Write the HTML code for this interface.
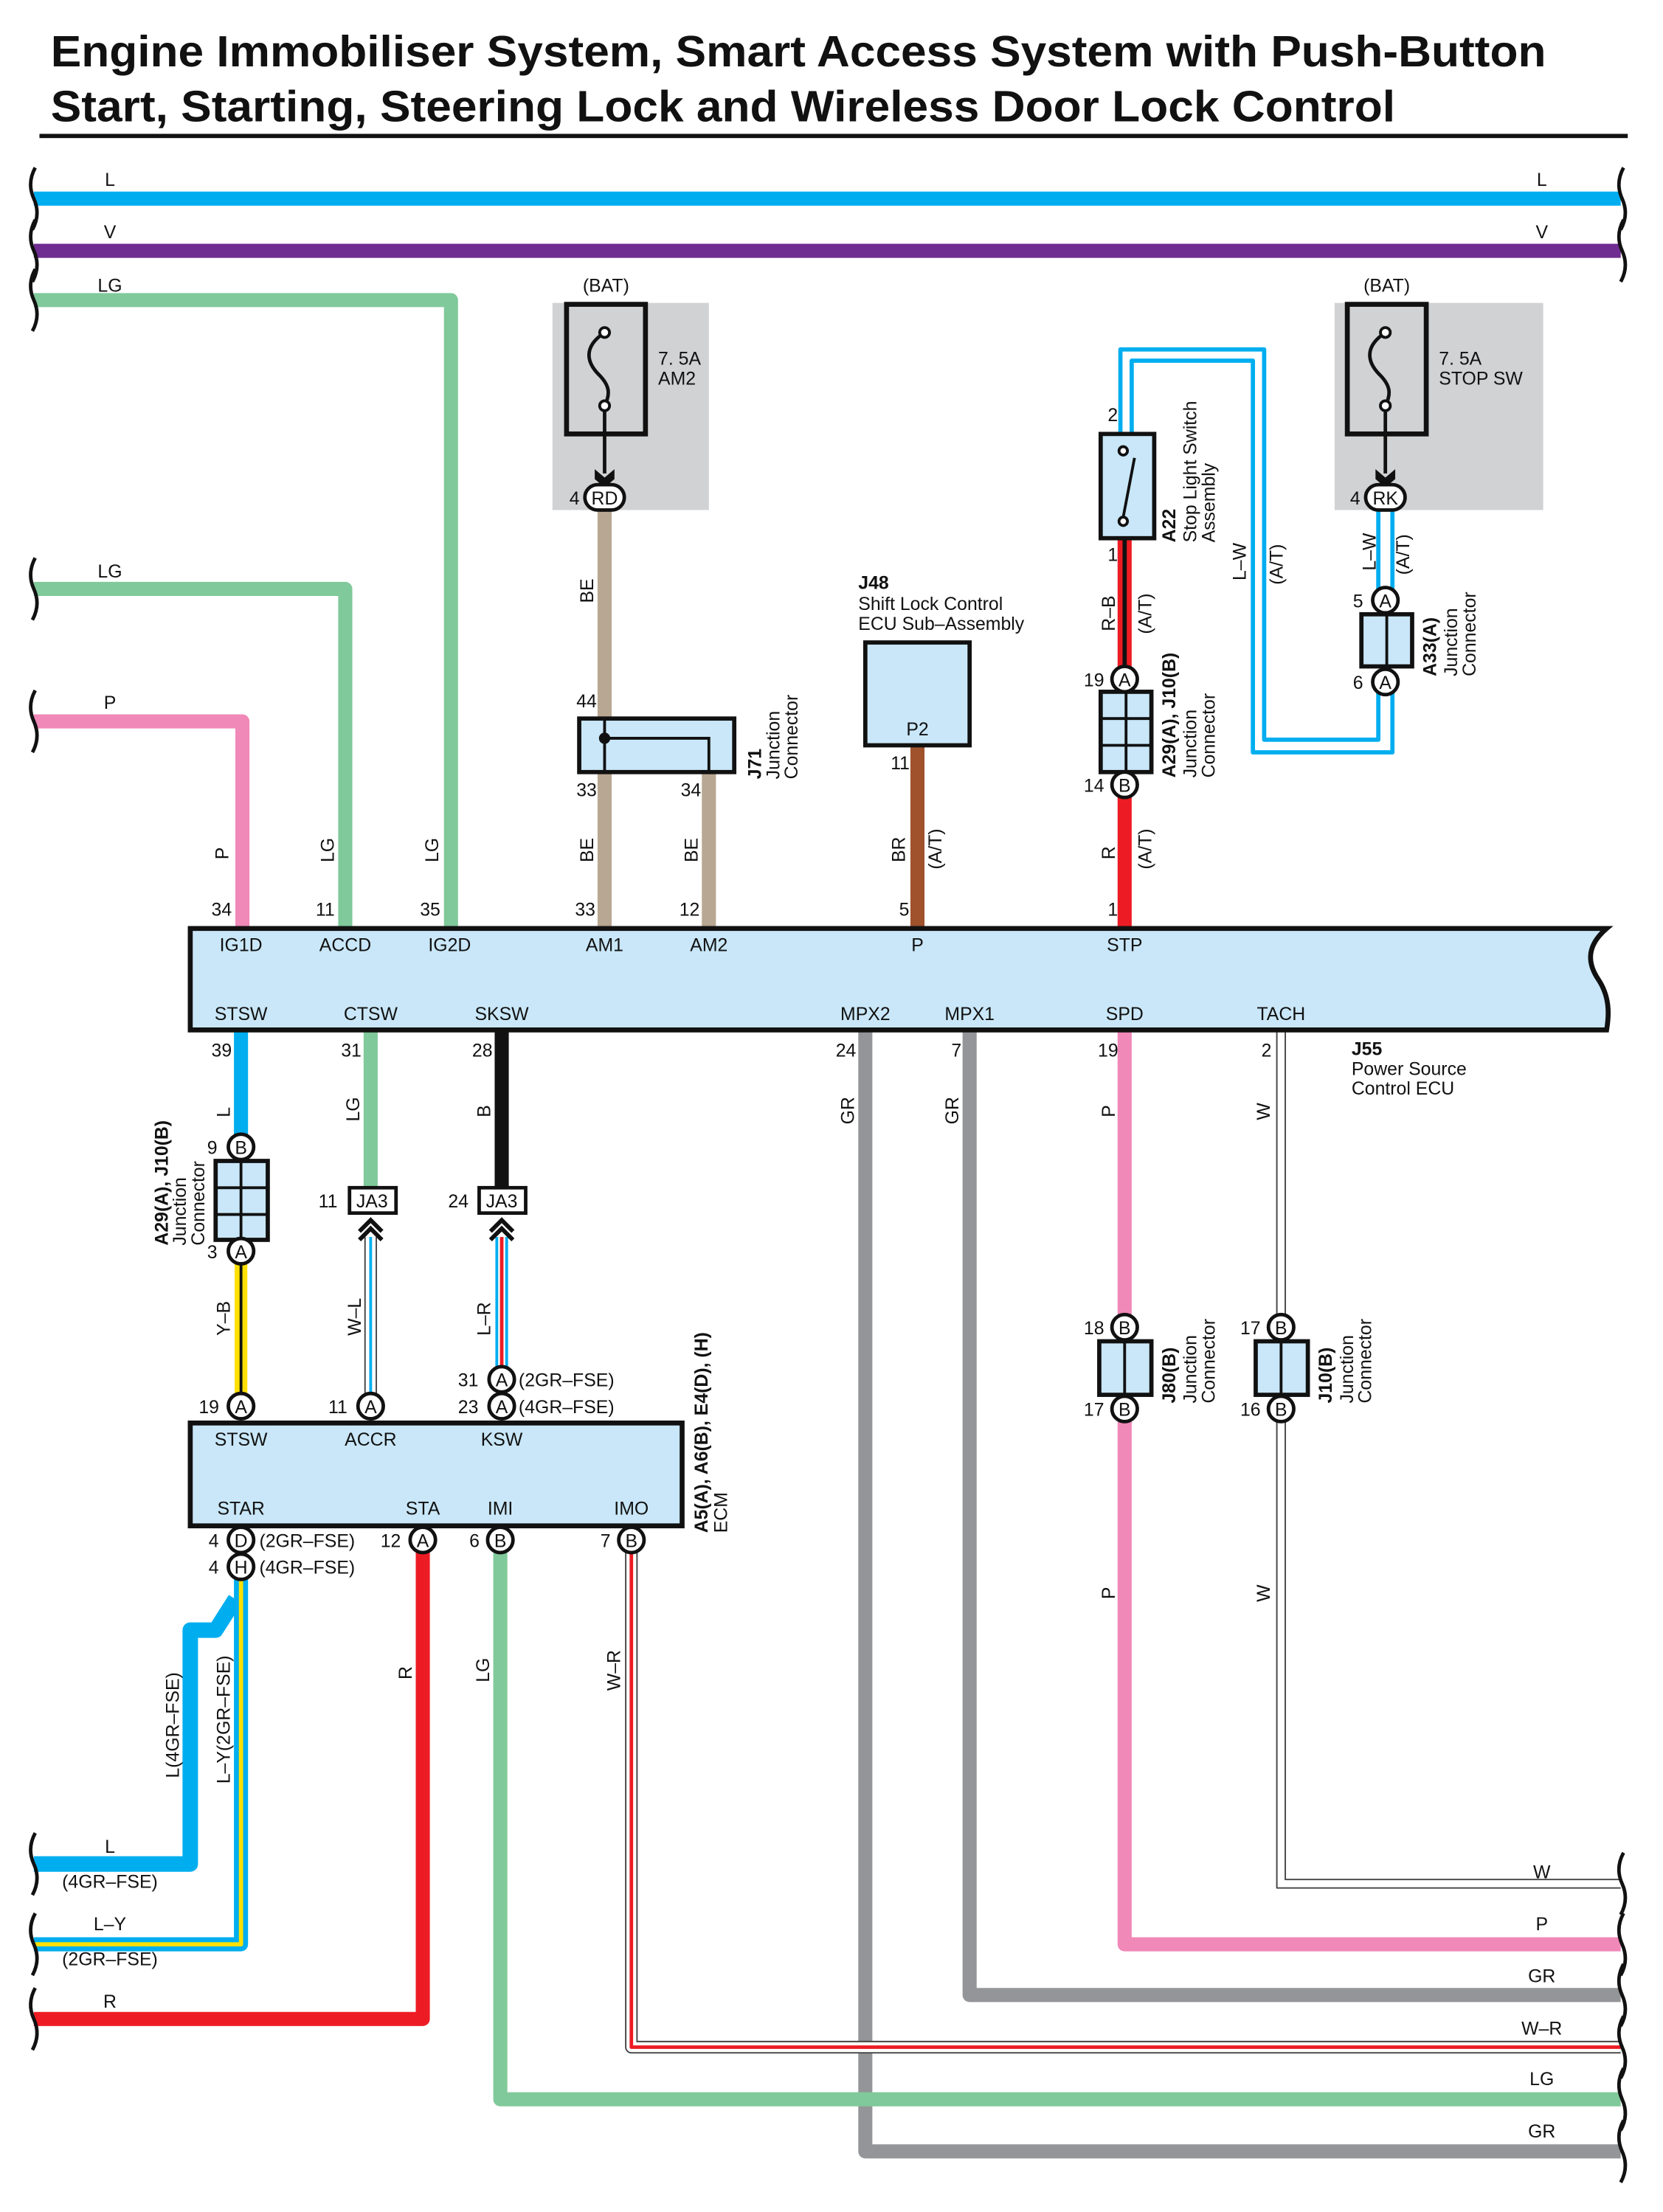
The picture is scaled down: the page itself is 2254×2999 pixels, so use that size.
<!DOCTYPE html>
<html><head><meta charset="utf-8"><style>
html,body{margin:0;padding:0;background:#fff}
svg{display:block}
text{font-family:"Liberation Sans",sans-serif;fill:#111}
.t{font-size:13px}
.b{font-weight:bold}
.c{font-size:13px}
</style></head><body>
<svg width="2254" height="2999" viewBox="0 0 1180 1570" preserveAspectRatio="none" xmlns="http://www.w3.org/2000/svg">
<defs>
<g id="sq"><path d="M0,-22 q-6,11 -1,22 q5,11 -1,22" fill="none" stroke="#111" stroke-width="2.5"/></g>
</defs>
<!-- title -->
<text x="36" y="47" class="b" style="font-size:31px" textLength="1061" lengthAdjust="spacingAndGlyphs">Engine Immobiliser System, Smart Access System with Push-Button</text>
<text x="36" y="86" class="b" style="font-size:31px" textLength="954" lengthAdjust="spacingAndGlyphs">Start, Starting, Steering Lock and Wireless Door Lock Control</text>
<rect x="28" y="95" width="1127" height="3" fill="#111"/>

<g fill="none" stroke-linejoin="round">
<path d="M24,141 H1150" stroke="#00aeef" stroke-width="10"/>
<path d="M24,178 H1150" stroke="#6f2c91" stroke-width="10"/>
<path d="M24,213 H320 V660" stroke="#80c99a" stroke-width="10"/>
<path d="M24,418 H245 V660" stroke="#80c99a" stroke-width="10"/>
<path d="M24,512 H172 V660" stroke="#f088b8" stroke-width="10"/>
<path d="M429,360 V512" stroke="#b8a792" stroke-width="10"/>
<path d="M429,548 V660 M503,548 V660" stroke="#b8a792" stroke-width="10"/>
<path d="M651,530 V660" stroke="#a0522d" stroke-width="10"/>
<path d="M798,382 V474" stroke="#ed1c24" stroke-width="10"/>
<path d="M798,382 V474" stroke="#111" stroke-width="3"/>
<path d="M798,565 V660" stroke="#ed1c24" stroke-width="10"/>
<path d="M795,307 V248 H897 V525 H978 V490" stroke="#00aeef" stroke-width="3"/>
<path d="M803,307 V256 H889 V534 H988 V490" stroke="#00aeef" stroke-width="3"/>
<path d="M978,362 V420 M988,362 V420" stroke="#00aeef" stroke-width="3"/>
</g>

<!-- fuse AM2 -->
<rect x="392" y="215" width="111" height="147" fill="#d1d2d4"/>
<rect x="402" y="216" width="56" height="92" fill="none" stroke="#111" stroke-width="3.5"/>
<path d="M429,236 c-18,12 -10,24 -4,30 c8,8 8,14 4,22 V336" fill="none" stroke="#111" stroke-width="2.5"/>
<circle cx="429" cy="236" r="3.5" fill="#fff" stroke="#111" stroke-width="2"/>
<circle cx="429" cy="288" r="3.5" fill="#fff" stroke="#111" stroke-width="2"/>
<path d="M422,333 L429,339 L436,333 V340 L429,346 L422,340 Z" fill="#111"/>
<rect x="415" y="344" width="28" height="18" rx="9" fill="#fff" stroke="#111" stroke-width="2.5"/>
<text x="429" y="358" class="t" text-anchor="middle">RD</text>
<text x="404" y="358" class="t">4</text>
<text x="430" y="207" class="t" text-anchor="middle">(BAT)</text>
<text x="467" y="259" class="t">7. 5A</text><text x="467" y="273" class="t">AM2</text>

<!-- fuse STOP SW -->
<rect x="947" y="215" width="148" height="147" fill="#d1d2d4"/>
<rect x="956" y="216" width="56" height="92" fill="none" stroke="#111" stroke-width="3.5"/>
<path d="M983,236 c-18,12 -10,24 -4,30 c8,8 8,14 4,22 V336" fill="none" stroke="#111" stroke-width="2.5"/>
<circle cx="983" cy="236" r="3.5" fill="#fff" stroke="#111" stroke-width="2"/>
<circle cx="983" cy="288" r="3.5" fill="#fff" stroke="#111" stroke-width="2"/>
<path d="M976,333 L983,339 L990,333 V340 L983,346 L976,340 Z" fill="#111"/>
<rect x="969" y="344" width="28" height="18" rx="9" fill="#fff" stroke="#111" stroke-width="2.5"/>
<text x="983" y="358" class="t" text-anchor="middle">RK</text>
<text x="958" y="358" class="t">4</text>
<text x="984" y="207" class="t" text-anchor="middle">(BAT)</text>
<text x="1021" y="259" class="t">7. 5A</text><text x="1021" y="273" class="t">STOP SW</text>

<!-- J71 -->
<rect x="411" y="510" width="110" height="38" fill="#c9e7f8" stroke="#111" stroke-width="3"/>
<path d="M429,510 V548 M429,524 H503 V548" fill="none" stroke="#111" stroke-width="2"/>
<circle cx="429" cy="524" r="4" fill="#111"/>
<text x="409" y="502" class="t">44</text>
<text x="409" y="565" class="t">33</text><text x="483" y="565" class="t">34</text>
<text transform="translate(540,553) rotate(-90)" class="t b">J71</text>
<text transform="translate(553,553) rotate(-90)" class="t">Junction</text>
<text transform="translate(566,553) rotate(-90)" class="t">Connector</text>

<!-- J48 -->
<rect x="614" y="456" width="74" height="73" fill="#c9e7f8" stroke="#111" stroke-width="3"/>
<text x="651" y="522" class="t" text-anchor="middle">P2</text>
<text x="609" y="418" class="t b">J48</text>
<text x="609" y="433" class="t">Shift Lock Control</text>
<text x="609" y="447" class="t">ECU Sub–Assembly</text>
<text x="632" y="546" class="t">11</text>

<!-- A22 switch -->
<rect x="781" y="308" width="38" height="74" fill="#c9e7f8" stroke="#111" stroke-width="3"/>
<circle cx="797" cy="320" r="3" fill="#fff" stroke="#111" stroke-width="2"/>
<circle cx="797" cy="370" r="3" fill="#fff" stroke="#111" stroke-width="2"/>
<path d="M797,367 L805,325" stroke="#111" stroke-width="2"/>
<text x="786" y="299" class="t">2</text><text x="786" y="398" class="t">1</text>
<text transform="translate(834,385) rotate(-90)" class="t b">A22</text>
<text transform="translate(849,385) rotate(-90)" class="t">Stop Light Switch</text>
<text transform="translate(862,385) rotate(-90)" class="t">Assembly</text>
<text transform="translate(884,412) rotate(-90)" class="t">L–W</text>
<text transform="translate(910,415) rotate(-90)" class="t">(A/T)</text>

<!-- A29/J10 junction upper -->
<rect x="781" y="491" width="36" height="57" fill="#c9e7f8" stroke="#111" stroke-width="3"/>
<path d="M799,491 V548 M781,510 H817 M781,529 H817" stroke="#111" stroke-width="2"/>
<circle cx="798" cy="482" r="9" fill="#fff" stroke="#111" stroke-width="2.5"/><text x="798" y="487" class="c" text-anchor="middle">A</text>
<circle cx="798" cy="557" r="9" fill="#fff" stroke="#111" stroke-width="2.5"/><text x="798" y="562" class="c" text-anchor="middle">B</text>
<text x="769" y="487" class="t">19</text><text x="769" y="562" class="t">14</text>
<text transform="translate(834,552) rotate(-90)" class="t b">A29(A), J10(B)</text>
<text transform="translate(849,552) rotate(-90)" class="t">Junction</text>
<text transform="translate(862,552) rotate(-90)" class="t">Connector</text>

<!-- A33 -->
<rect x="966" y="436" width="36" height="37" fill="#c9e7f8" stroke="#111" stroke-width="3"/>
<path d="M984,436 V473" stroke="#111" stroke-width="2"/>
<circle cx="983" cy="426" r="9" fill="#fff" stroke="#111" stroke-width="2.5"/><text x="983" y="431" class="c" text-anchor="middle">A</text>
<circle cx="983" cy="484" r="9" fill="#fff" stroke="#111" stroke-width="2.5"/><text x="983" y="489" class="c" text-anchor="middle">A</text>
<text x="960" y="431" class="t">5</text><text x="960" y="489" class="t">6</text>
<text transform="translate(976,405) rotate(-90)" class="t">L–W</text>
<text transform="translate(1000,408) rotate(-90)" class="t">(A/T)</text>
<text transform="translate(1019,480) rotate(-90)" class="t b">A33(A)</text>
<text transform="translate(1034,480) rotate(-90)" class="t">Junction</text>
<text transform="translate(1047,480) rotate(-90)" class="t">Connector</text>

<!-- labels above ECU -->
<text transform="translate(162,610) rotate(-90)" class="t">P</text>
<text transform="translate(237,612) rotate(-90)" class="t">LG</text>
<text transform="translate(311,612) rotate(-90)" class="t">LG</text>
<text transform="translate(421,428) rotate(-90)" class="t">BE</text>
<text transform="translate(421,612) rotate(-90)" class="t">BE</text>
<text transform="translate(495,612) rotate(-90)" class="t">BE</text>
<text transform="translate(642,612) rotate(-90)" class="t">BR</text>
<text transform="translate(668,617) rotate(-90)" class="t">(A/T)</text>
<text transform="translate(791,448) rotate(-90)" class="t">R–B</text>
<text transform="translate(817,450) rotate(-90)" class="t">(A/T)</text>
<text transform="translate(791,610) rotate(-90)" class="t">R</text>
<text transform="translate(817,617) rotate(-90)" class="t">(A/T)</text>
<text x="150" y="650" class="t">34</text><text x="224" y="650" class="t">11</text><text x="298" y="650" class="t">35</text>
<text x="408" y="650" class="t">33</text><text x="482" y="650" class="t">12</text><text x="638" y="650" class="t">5</text><text x="786" y="650" class="t">1</text>

<!-- lower wires -->
<g fill="none" stroke-linejoin="round">
<path d="M171,730 V806" stroke="#00aeef" stroke-width="10"/>
<path d="M263,730 V843" stroke="#80c99a" stroke-width="10"/>
<path d="M356,730 V843" stroke="#111" stroke-width="10"/>
<path d="M614,730 V1527 H1150" stroke="#939598" stroke-width="10"/>
<path d="M688,730 V1416 H1150" stroke="#939598" stroke-width="10"/>
<path d="M798,730 V1380 H1150" stroke="#f088b8" stroke-width="10"/>
<path d="M906,730 V1340 H1150" stroke="#444" stroke-width="1"/>
<path d="M912,730 V1334 H1150" stroke="#444" stroke-width="1"/>
<path d="M171,896 V990" stroke="#ffe000" stroke-width="9"/>
<path d="M171,896 V990" stroke="#111" stroke-width="2"/>
<path d="M263,878 V990" stroke="#444" stroke-width="9"/>
<path d="M263,878 V990" stroke="#fff" stroke-width="7"/>
<path d="M263,878 V990" stroke="#00aeef" stroke-width="2"/>
<path d="M356,878 V970" stroke="#00aeef" stroke-width="9"/>
<path d="M356,878 V970" stroke="#fff" stroke-width="5"/>
<path d="M356,878 V970" stroke="#ed1c24" stroke-width="2.5"/>
<path d="M167,1135 L153,1157 H135 V1323 H24" stroke="#00aeef" stroke-width="11"/>
<path d="M171,1120 V1380 H24" stroke="#00aeef" stroke-width="10"/>
<path d="M171,1120 V1380 H24" stroke="#ffe000" stroke-width="3"/>
<path d="M300,1100 V1433 H24" stroke="#ed1c24" stroke-width="10"/>
<path d="M355,1100 V1490 H1150" stroke="#80c99a" stroke-width="10"/>
<path d="M448,1100 V1453 H1150" stroke="#444" stroke-width="9"/>
<path d="M448,1100 V1453 H1150" stroke="#fff" stroke-width="7"/>
<path d="M448,1100 V1453 H1150" stroke="#ed1c24" stroke-width="2.5"/>
</g>

<!-- main ECU J55 -->
<path d="M135,659 H1140 c-14,12 -14,24 -6,36 c8,12 8,24 6,36 H135 Z" fill="#c9e7f8" stroke="#111" stroke-width="3.5"/>
<g text-anchor="middle">
<text x="171" y="675" class="t">IG1D</text><text x="245" y="675" class="t">ACCD</text><text x="319" y="675" class="t">IG2D</text>
<text x="429" y="675" class="t">AM1</text><text x="503" y="675" class="t">AM2</text><text x="651" y="675" class="t">P</text><text x="798" y="675" class="t">STP</text>
<text x="171" y="724" class="t">STSW</text><text x="263" y="724" class="t">CTSW</text><text x="356" y="724" class="t">SKSW</text>
<text x="614" y="724" class="t">MPX2</text><text x="688" y="724" class="t">MPX1</text><text x="798" y="724" class="t">SPD</text><text x="909" y="724" class="t">TACH</text>
</g>
<text x="959" y="749" class="t b">J55</text>
<text x="959" y="763" class="t">Power Source</text>
<text x="959" y="777" class="t">Control ECU</text>
<text x="150" y="750" class="t">39</text><text x="242" y="750" class="t">31</text><text x="335" y="750" class="t">28</text>
<text x="593" y="750" class="t">24</text><text x="675" y="750" class="t">7</text><text x="779" y="750" class="t">19</text><text x="895" y="750" class="t">2</text>
<text transform="translate(163,793) rotate(-90)" class="t">L</text>
<text transform="translate(255,796) rotate(-90)" class="t">LG</text>
<text transform="translate(348,793) rotate(-90)" class="t">B</text>
<text transform="translate(606,798) rotate(-90)" class="t">GR</text>
<text transform="translate(680,798) rotate(-90)" class="t">GR</text>
<text transform="translate(791,793) rotate(-90)" class="t">P</text>
<text transform="translate(901,795) rotate(-90)" class="t">W</text>

<!-- lower left junction -->
<rect x="153" y="824" width="37" height="56" fill="#c9e7f8" stroke="#111" stroke-width="3"/>
<path d="M171,824 V880 M153,843 H190 M153,862 H190" stroke="#111" stroke-width="2"/>
<circle cx="171" cy="814" r="9" fill="#fff" stroke="#111" stroke-width="2.5"/><text x="171" y="819" class="c" text-anchor="middle">B</text>
<circle cx="171" cy="888" r="9" fill="#fff" stroke="#111" stroke-width="2.5"/><text x="171" y="893" class="c" text-anchor="middle">A</text>
<text x="147" y="819" class="t">9</text><text x="147" y="893" class="t">3</text>
<text transform="translate(119,884) rotate(-90)" class="t b">A29(A), J10(B)</text>
<text transform="translate(132,884) rotate(-90)" class="t">Junction</text>
<text transform="translate(145,884) rotate(-90)" class="t">Connector</text>
<text transform="translate(163,948) rotate(-90)" class="t">Y–B</text>

<!-- JA3 -->
<rect x="248" y="843" width="33" height="18" fill="#fff" stroke="#111" stroke-width="2.5"/>
<text x="264" y="857" class="t" text-anchor="middle">JA3</text>
<path d="M255,874 L263,866 L271,874 M255,880 L263,872 L271,880" fill="none" stroke="#111" stroke-width="3"/>
<text x="226" y="857" class="t">11</text>
<rect x="340" y="843" width="33" height="18" fill="#fff" stroke="#111" stroke-width="2.5"/>
<text x="356" y="857" class="t" text-anchor="middle">JA3</text>
<path d="M348,874 L356,866 L364,874 M348,880 L356,872 L364,880" fill="none" stroke="#111" stroke-width="3"/>
<text x="318" y="857" class="t">24</text>
<text transform="translate(256,948) rotate(-90)" class="t">W–L</text>
<text transform="translate(348,948) rotate(-90)" class="t">L–R</text>

<!-- ECM -->
<rect x="135" y="1010" width="349" height="73" fill="#c9e7f8" stroke="#111" stroke-width="3.5"/>
<g text-anchor="middle">
<text x="171" y="1026" class="t">STSW</text><text x="263" y="1026" class="t">ACCR</text><text x="356" y="1026" class="t">KSW</text>
<text x="171" y="1075" class="t">STAR</text><text x="300" y="1075" class="t">STA</text><text x="355" y="1075" class="t">IMI</text><text x="448" y="1075" class="t">IMO</text>
</g>
<circle cx="171" cy="998" r="9" fill="#fff" stroke="#111" stroke-width="2.5"/><text x="171" y="1003" class="c" text-anchor="middle">A</text>
<circle cx="263" cy="998" r="9" fill="#fff" stroke="#111" stroke-width="2.5"/><text x="263" y="1003" class="c" text-anchor="middle">A</text>
<circle cx="356" cy="979" r="9" fill="#fff" stroke="#111" stroke-width="2.5"/><text x="356" y="984" class="c" text-anchor="middle">A</text>
<circle cx="356" cy="998" r="9" fill="#fff" stroke="#111" stroke-width="2.5"/><text x="356" y="1003" class="c" text-anchor="middle">A</text>
<text x="141" y="1003" class="t">19</text><text x="233" y="1003" class="t">11</text>
<text x="325" y="984" class="t">31</text><text x="325" y="1003" class="t">23</text>
<text x="368" y="984" class="t">(2GR–FSE)</text><text x="368" y="1003" class="t">(4GR–FSE)</text>
<text transform="translate(502,1088) rotate(-90)" class="t b">A5(A), A6(B), E4(D), (H)</text>
<text transform="translate(516,1088) rotate(-90)" class="t">ECM</text>

<circle cx="171" cy="1093" r="9" fill="#fff" stroke="#111" stroke-width="2.5"/><text x="171" y="1098" class="c" text-anchor="middle">D</text>
<circle cx="171" cy="1112" r="9" fill="#fff" stroke="#111" stroke-width="2.5"/><text x="171" y="1117" class="c" text-anchor="middle">H</text>
<circle cx="300" cy="1093" r="9" fill="#fff" stroke="#111" stroke-width="2.5"/><text x="300" y="1098" class="c" text-anchor="middle">A</text>
<circle cx="355" cy="1093" r="9" fill="#fff" stroke="#111" stroke-width="2.5"/><text x="355" y="1098" class="c" text-anchor="middle">B</text>
<circle cx="448" cy="1093" r="9" fill="#fff" stroke="#111" stroke-width="2.5"/><text x="448" y="1098" class="c" text-anchor="middle">B</text>
<text x="148" y="1098" class="t">4</text><text x="148" y="1117" class="t">4</text>
<text x="184" y="1098" class="t">(2GR–FSE)</text><text x="184" y="1117" class="t">(4GR–FSE)</text>
<text x="270" y="1098" class="t">12</text><text x="333" y="1098" class="t">6</text><text x="426" y="1098" class="t">7</text>

<text transform="translate(127,1262) rotate(-90)" class="t">L(4GR–FSE)</text>
<text transform="translate(163,1266) rotate(-90)" class="t">L–Y(2GR–FSE)</text>
<text transform="translate(292,1192) rotate(-90)" class="t">R</text>
<text transform="translate(347,1194) rotate(-90)" class="t">LG</text>
<text transform="translate(440,1200) rotate(-90)" class="t">W–R</text>
<text transform="translate(791,1135) rotate(-90)" class="t">P</text>
<text transform="translate(901,1137) rotate(-90)" class="t">W</text>

<!-- J80 / J10 lower right -->
<rect x="780" y="952" width="37" height="38" fill="#c9e7f8" stroke="#111" stroke-width="3"/>
<path d="M798,952 V990" stroke="#111" stroke-width="2"/>
<circle cx="798" cy="942" r="9" fill="#fff" stroke="#111" stroke-width="2.5"/><text x="798" y="947" class="c" text-anchor="middle">B</text>
<circle cx="798" cy="1000" r="9" fill="#fff" stroke="#111" stroke-width="2.5"/><text x="798" y="1005" class="c" text-anchor="middle">B</text>
<text x="769" y="947" class="t">18</text><text x="769" y="1005" class="t">17</text>
<text transform="translate(834,996) rotate(-90)" class="t b">J80(B)</text>
<text transform="translate(849,996) rotate(-90)" class="t">Junction</text>
<text transform="translate(862,996) rotate(-90)" class="t">Connector</text>
<rect x="891" y="952" width="37" height="38" fill="#c9e7f8" stroke="#111" stroke-width="3"/>
<path d="M909,952 V990" stroke="#111" stroke-width="2"/>
<circle cx="909" cy="942" r="9" fill="#fff" stroke="#111" stroke-width="2.5"/><text x="909" y="947" class="c" text-anchor="middle">B</text>
<circle cx="909" cy="1000" r="9" fill="#fff" stroke="#111" stroke-width="2.5"/><text x="909" y="1005" class="c" text-anchor="middle">B</text>
<text x="880" y="947" class="t">17</text><text x="880" y="1005" class="t">16</text>
<text transform="translate(945,996) rotate(-90)" class="t b">J10(B)</text>
<text transform="translate(960,996) rotate(-90)" class="t">Junction</text>
<text transform="translate(973,996) rotate(-90)" class="t">Connector</text>

<!-- wire end labels -->
<text x="78" y="132" class="t" text-anchor="middle">L</text><text x="1094" y="132" class="t" text-anchor="middle">L</text>
<text x="78" y="169" class="t" text-anchor="middle">V</text><text x="1094" y="169" class="t" text-anchor="middle">V</text>
<text x="78" y="207" class="t" text-anchor="middle">LG</text>
<text x="78" y="410" class="t" text-anchor="middle">LG</text>
<text x="78" y="503" class="t" text-anchor="middle">P</text>
<text x="78" y="1315" class="t" text-anchor="middle">L</text>
<text x="78" y="1340" class="t" text-anchor="middle">(4GR–FSE)</text>
<text x="78" y="1370" class="t" text-anchor="middle">L–Y</text>
<text x="78" y="1395" class="t" text-anchor="middle">(2GR–FSE)</text>
<text x="78" y="1425" class="t" text-anchor="middle">R</text>
<text x="1094" y="1333" class="t" text-anchor="middle">W</text>
<text x="1094" y="1370" class="t" text-anchor="middle">P</text>
<text x="1094" y="1407" class="t" text-anchor="middle">GR</text>
<text x="1094" y="1444" class="t" text-anchor="middle">W–R</text>
<text x="1094" y="1480" class="t" text-anchor="middle">LG</text>
<text x="1094" y="1517" class="t" text-anchor="middle">GR</text>

<!-- squiggles -->
<use href="#sq" x="25" y="141"/><use href="#sq" x="25" y="178"/><use href="#sq" x="25" y="213"/>
<use href="#sq" x="25" y="418"/><use href="#sq" x="25" y="512"/><use href="#sq" x="25" y="1323"/>
<use href="#sq" x="25" y="1380"/><use href="#sq" x="25" y="1433"/>
<use href="#sq" x="1152" y="141"/><use href="#sq" x="1152" y="178"/>
<use href="#sq" x="1152" y="1337"/><use href="#sq" x="1152" y="1380"/><use href="#sq" x="1152" y="1416"/>
<use href="#sq" x="1152" y="1453"/><use href="#sq" x="1152" y="1490"/><use href="#sq" x="1152" y="1527"/>
</svg>
</body></html>
